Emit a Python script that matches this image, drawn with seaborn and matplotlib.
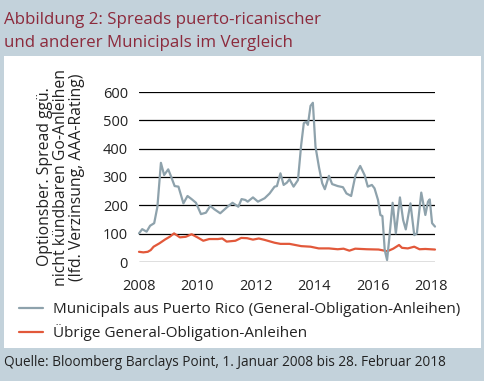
import pandas as pd
import matplotlib.pyplot as plt
import seaborn as sns
from matplotlib.patches import Rectangle
from matplotlib.lines import Line2D

# Puerto Rico GO spread (decimal years, bp)
pr_years = [2008.0, 2008.11, 2008.26, 2008.38, 2008.52, 2008.63, 2008.75, 2008.86, 2009.0, 2009.1,
            2009.22, 2009.35, 2009.52, 2009.66, 2009.8, 2009.95, 2010.12, 2010.29, 2010.44, 2010.58,
            2010.78, 2011.03, 2011.2, 2011.4, 2011.51, 2011.64, 2011.72, 2011.9, 2012.07, 2012.3,
            2012.47, 2012.64, 2012.72, 2012.84, 2012.95, 2013.06, 2013.15, 2013.29, 2013.44, 2013.55,
            2013.64, 2013.72, 2013.78, 2013.87, 2013.95, 2014.04, 2014.16, 2014.27, 2014.36, 2014.5,
            2014.61, 2014.8, 2014.98, 2015.1, 2015.26, 2015.41, 2015.57, 2015.72, 2015.83, 2015.97,
            2016.06, 2016.18, 2016.26, 2016.33, 2016.41, 2016.49, 2016.56, 2016.68, 2016.79, 2016.93,
            2017.04, 2017.13, 2017.29, 2017.42, 2017.51, 2017.66, 2017.8, 2017.89, 2017.95, 2018.03,
            2018.13]
pr_spread = [101, 116, 107, 128, 137, 195, 350, 307, 327, 301,
             268, 266, 207, 233, 222, 209, 169, 174, 198, 186,
             172, 195, 209, 195, 222, 219, 213, 228, 213, 225,
             242, 266, 268, 313, 272, 280, 292, 266, 289, 413,
             490, 495, 484, 551, 562, 407, 334, 278, 257, 304,
             275, 268, 264, 242, 233, 307, 339, 307, 266, 272,
             260, 219, 166, 162, 42, 7, 78, 209, 101, 228,
             148, 115, 207, 95, 101, 245, 166, 213, 221, 137,
             125]

# other GO municipals
go_years = [2008.0, 2008.15, 2008.3, 2008.4, 2008.5, 2008.7, 2008.9, 2009.05, 2009.2, 2009.4,
            2009.6, 2009.8, 2010.0, 2010.2, 2010.4, 2010.7, 2010.85, 2011.0, 2011.3, 2011.5,
            2011.7, 2011.9, 2012.1, 2012.3, 2012.64, 2012.84, 2013.15, 2013.55, 2013.87, 2014.15,
            2014.5, 2014.8, 2015.0, 2015.2, 2015.4, 2015.8, 2016.2, 2016.5, 2016.7, 2016.9,
            2017.0, 2017.2, 2017.42, 2017.6, 2017.8, 2018.13]
go_spread = [36, 34, 36, 42, 54, 66, 80, 89, 101, 87,
             89, 98, 87, 75, 81, 81, 83, 72, 75, 85,
             84, 79, 83, 78, 68, 64, 64, 56, 54, 48,
             48, 45, 47, 40, 47, 45, 44, 38, 47, 60,
             50, 48, 54, 45, 46, 44]

y_ticks = [0, 100, 200, 300, 400, 500, 600]
x_ticks = [2008, 2010, 2012, 2014, 2016, 2018]

pr_label = "Municipals aus Puerto Rico (General-Obligation-Anleihen)"
go_label = "Übrige General-Obligation-Anleihen"

df_pr = pd.DataFrame({"Jahr": pr_years, "Spread": pr_spread})
df_go = pd.DataFrame({"Jahr": go_years, "Spread": go_spread})

sns.set_style("white")
plt.rcParams['font.family'] = ['Open Sans', 'DejaVu Sans']

bg = "#c3d2db"
grey = "#8ea2ac"
red = "#e2583a"
title_col = "#8c2a3c"
txt = "#222222"

fig = plt.figure(figsize=(4.85, 3.81), dpi=100, facecolor=bg)
# white panel behind the chart
fig.patches.append(Rectangle((4 / 485, 1 - 348 / 381), 477 / 485, 292 / 381,
                             transform=fig.transFigure, facecolor="white", edgecolor="none", zorder=-5))

ax = fig.add_axes([139 / 485, 1 - 262 / 381, 296 / 485, 170 / 381])
ax.set_facecolor("none")

sns.lineplot(data=df_go, x="Jahr", y="Spread", ax=ax, color=red, linewidth=1.6, clip_on=False)
sns.lineplot(data=df_pr, x="Jahr", y="Spread", ax=ax, color=grey, linewidth=1.6, clip_on=False)

ax.set_xlim(2008, 2018.13)
ax.set_ylim(0, 600)
ax.set_yticks(y_ticks)
ax.set_xticks(x_ticks)
ax.set_xticklabels([str(t) for t in x_ticks], fontsize=10.5)
ax.set_yticklabels([str(t) for t in y_ticks], fontsize=10.5)
ax.tick_params(length=0, pad=8, colors=txt)
ax.tick_params(axis="x", pad=12)
for s in ax.spines.values():
    s.set_visible(False)
ax.grid(axis="y", color="black", linewidth=0.9)
ax.set_axisbelow(True)
ax.set_xlabel("")
ax.set_ylabel("Optionsber. Spread ggü.\nnicht kündbaren Go-Anleihen\n(lfd. Verzinsung, AAA-Rating)",
              fontsize=11.3, color=txt, labelpad=13, linespacing=1.0)

fig.text(4 / 485, 1 - 20 / 381, "Abbildung 2: Spreads puerto-ricanischer", fontsize=12.2,
         color=title_col, va="center", ha="left")
fig.text(4 / 485, 1 - 43 / 381, "und anderer Municipals im Vergleich", fontsize=12.2,
         color=title_col, va="center", ha="left")

handles = [Line2D([], [], color=grey, linewidth=1.6), Line2D([], [], color=red, linewidth=1.6)]
fig.legend(handles, [pr_label, go_label], loc="upper left", bbox_to_anchor=(19 / 485, 1 - 302 / 381),
           frameon=False, fontsize=11, handlelength=1.6, handletextpad=0.6, labelspacing=0.45,
           borderaxespad=0, borderpad=0, labelcolor=txt)

fig.text(4 / 485, 1 - 363 / 381, "Quelle: Bloomberg Barclays Point, 1. Januar 2008 bis 28. Februar 2018",
         fontsize=9.8, color=txt, va="center", ha="left")

fig.savefig("out.png", dpi=100, facecolor=bg)
